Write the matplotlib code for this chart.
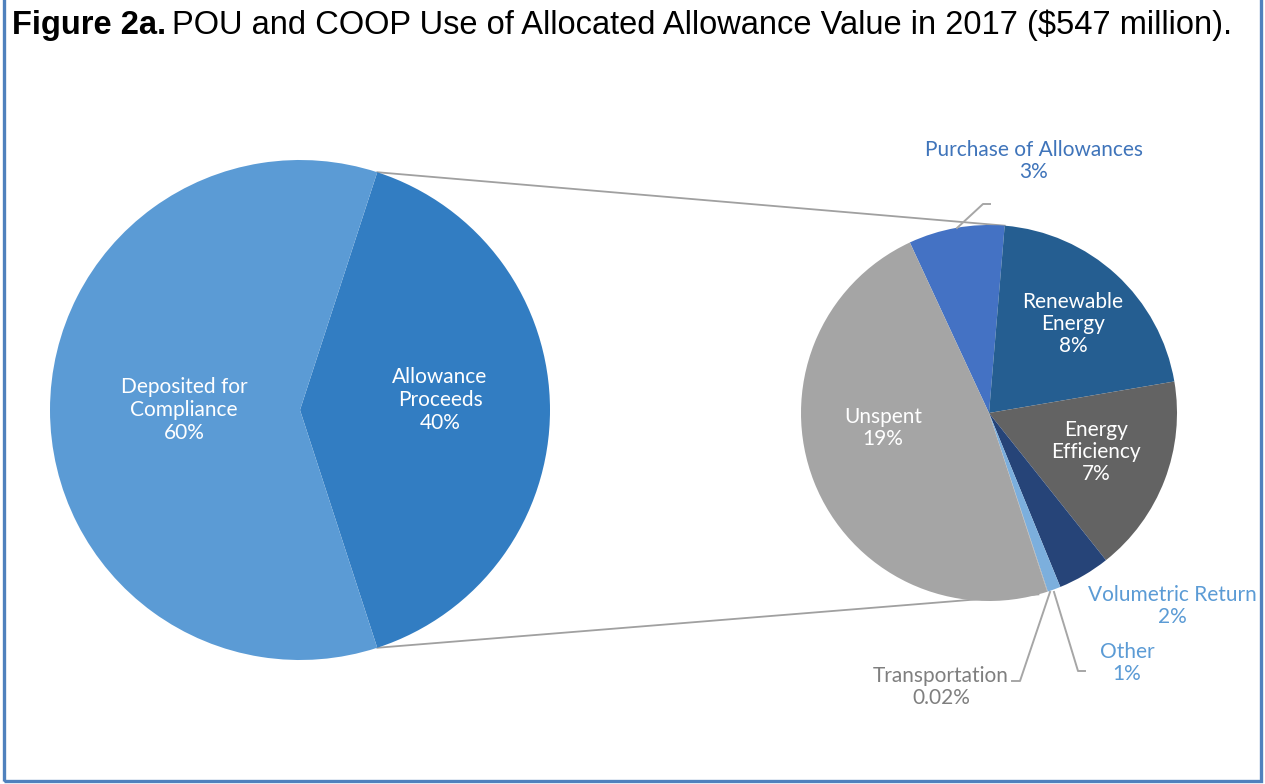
import numpy as np
import matplotlib
matplotlib.use("Agg")
import matplotlib.pyplot as plt
from matplotlib.patches import Rectangle

W, H = 1265, 784

# main pie: share of total allocated allowance value (%)
main_labels = ["Allowance\nProceeds\n40%", "Deposited for\nCompliance\n60%"]
main_values = [40, 60]
main_colors = ["#327DC2", "#5B9BD5"]

# secondary pie: breakdown of allowance proceeds (% of total)
sub_names = ["Purchase of Allowances", "Renewable Energy", "Energy Efficiency",
             "Volumetric Return", "Other", "Transportation", "Unspent"]
sub_values = [3.3, 8.4, 6.8, 1.8, 0.45, 0.02, 19.25]
sub_pct = ["3%", "8%", "7%", "2%", "1%", "0.02%", "19%"]
sub_colors = ["#4472C4", "#255E91", "#636363", "#264478", "#7CAFDD", "#A5A5A5", "#A5A5A5"]

FONT = "Lato"
FS = 15


def Y(y):
    return H - y


fig = plt.figure(figsize=(W / 100, H / 100), dpi=100)
ax = fig.add_axes([0, 0, 1, 1])

big_c, big_r = (300, Y(410)), 250
small_c, small_r = (989, Y(413)), 188

ax.pie(main_values, colors=main_colors, startangle=-72, counterclock=True,
       center=big_c, radius=big_r, wedgeprops=dict(linewidth=0), frame=True)
small_start = 114.9
ax.pie(sub_values, colors=sub_colors, startangle=small_start, counterclock=False,
       center=small_c, radius=small_r, wedgeprops=dict(linewidth=0), frame=True)

# connector lines between the two pies
half = main_values[0] / 100 * 360 / 2
tot = sum(sub_values)
edges = small_start - np.cumsum([0] + sub_values) / tot * 360


def on_circle(c, r, deg):
    a = np.deg2rad(deg)
    return c[0] + r * np.cos(a), c[1] + r * np.sin(a)


p1 = on_circle(big_c, big_r, half)
p2 = on_circle(small_c, small_r, edges[1])
p3 = on_circle(big_c, big_r, -half)
p4 = on_circle(small_c, small_r, edges[5] - 3)
for a, b in [(p1, p2), (p3, p4)]:
    ax.plot([a[0], b[0]], [a[1], b[1]], color="#A0A0A0", lw=1.3, zorder=0)

# labels inside the pies
ax.text(184, Y(410), main_labels[1], color="white", fontsize=FS, family=FONT,
        ha="center", va="center", linespacing=1.2)
ax.text(440, Y(400), main_labels[0], color="white", fontsize=FS, family=FONT,
        ha="center", va="center", linespacing=1.2)

ax.text(1073, Y(324), "Renewable\nEnergy\n" + sub_pct[1], color="white", fontsize=FS,
        family=FONT, ha="center", va="center", linespacing=1.15)
ax.text(1096, Y(452), "Energy\nEfficiency\n" + sub_pct[2], color="white", fontsize=FS,
        family=FONT, ha="center", va="center", linespacing=1.15)
ax.text(883, Y(428), "Unspent\n" + sub_pct[6], color="white", fontsize=FS,
        family=FONT, ha="center", va="center", linespacing=1.15)

# outside labels
ax.text(1034, Y(161), sub_names[0] + "\n" + sub_pct[0], color="#3F74BA", fontsize=FS,
        family=FONT, ha="center", va="center", linespacing=1.15)
ax.text(1172, Y(606), sub_names[3] + "\n" + sub_pct[3], color="#5B9BD5", fontsize=FS,
        family=FONT, ha="center", va="center", linespacing=1.15)
ax.text(1127, Y(663), sub_names[4] + "\n" + sub_pct[4], color="#5B9BD5", fontsize=FS,
        family=FONT, ha="center", va="center", linespacing=1.15)
ax.text(941, Y(687), sub_names[5] + "\n" + sub_pct[5], color="#7F7F7F", fontsize=FS,
        family=FONT, ha="center", va="center", linespacing=1.15)

# leader lines
lead = dict(color="#A6A6A6", lw=1.4, zorder=3)
ax.plot([957, 983, 990], [Y(228), Y(204), Y(204)], **lead)
ax.plot([1054, 1078, 1085], [Y(592), Y(671), Y(671)], **lead)
ax.plot([1050, 1020, 1012], [Y(592), Y(681), Y(681)], **lead)

ax.set_xlim(0, W)
ax.set_ylim(0, H)
ax.set_aspect("auto")
ax.axis("off")

# border (top edge sits outside the picture)
fig.patches.append(Rectangle((4 / W, 3 / H), (W - 8) / W, 1.2, transform=fig.transFigure,
                             fill=False, edgecolor="#4F81BD", lw=2.4))

# title: bold lead-in then regular text
t1 = fig.text(12 / W, 1 - 34 / H, "Figure 2a.", fontsize=23.5, fontweight="bold",
              family="Liberation Sans", va="baseline")
fig.canvas.draw()
bb = t1.get_window_extent()
fig.text(bb.x1 / W + 6 / W, 1 - 34 / H,
         "POU and COOP Use of Allocated Allowance Value in 2017 ($547 million).",
         fontsize=23.5, family="Liberation Sans", va="baseline")

fig.savefig("out.png", dpi=100)
